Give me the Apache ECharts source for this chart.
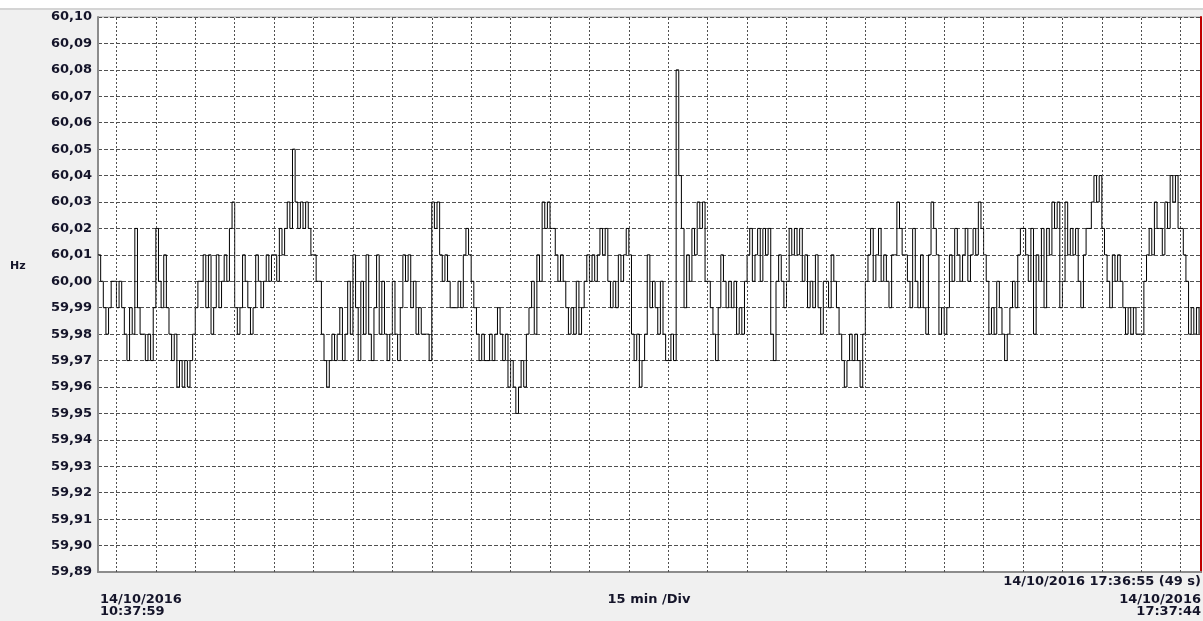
<!DOCTYPE html>
<html>
<head>
<meta charset="utf-8">
<script src="https://cdn.jsdelivr.net/npm/echarts@6/dist/echarts.min.js"></script>
<style>
html,body{margin:0;padding:0;background:#f0f0f0;}
#c{width:1203px;height:621px;}
</style>
</head>
<body>
<div id="c"></div>
<script>
// ---- data (minutes since midnight, 1 sample per minute starting 10:38) ----
const axisStartMin = 10 * 60 + 37 + 59 / 60;   // 14/10/2016 10:37:59
const axisEndMin = 17 * 60 + 37 + 44 / 60;     // 14/10/2016 17:37:44
const firstSampleMin = 10 * 60 + 38;
const sampleStepMin = 1;

// frequency (Hz), one row per 15-minute division
const frequency = [
  60.01,60.00,59.99,59.98,59.99,60.00,60.00,
  59.99,60.00,59.99,59.98,59.97,59.99,59.98,60.02,59.99,59.98,59.98,59.97,59.98,59.97,59.99,
  60.02,60.00,59.99,60.01,59.99,59.98,59.97,59.98,59.96,59.97,59.96,59.97,59.96,59.97,59.98,
  59.99,60.00,60.00,60.01,59.99,60.01,59.98,59.99,60.01,59.99,60.00,60.01,60.00,60.02,60.03,
  59.99,59.98,59.99,60.01,60.00,59.99,59.98,59.99,60.01,60.00,59.99,60.00,60.01,60.00,60.01,
  60.01,60.00,60.02,60.01,60.02,60.03,60.02,60.05,60.03,60.02,60.03,60.02,60.03,60.02,60.01,
  60.01,60.00,60.00,59.98,59.97,59.96,59.97,59.98,59.97,59.98,59.99,59.97,59.98,60.00,59.98,
  60.01,59.99,59.97,60.00,59.98,60.01,59.98,59.97,59.99,60.01,59.98,60.00,59.98,59.97,59.98,
  60.00,59.98,59.97,59.99,60.01,60.00,60.01,59.99,60.00,59.98,59.99,59.98,59.98,59.98,59.97,
  60.03,60.02,60.03,60.01,60.00,60.01,60.00,59.99,59.99,59.99,60.00,59.99,60.01,60.02,60.01,
  60.00,59.99,59.98,59.97,59.98,59.97,59.97,59.98,59.97,59.98,59.99,59.98,59.97,59.98,59.96,
  59.97,59.96,59.95,59.96,59.97,59.96,59.98,59.99,60.00,59.98,60.01,60.00,60.03,60.02,60.03,
  60.02,60.02,60.01,60.00,60.01,60.00,59.99,59.98,59.99,59.98,60.00,59.98,59.99,60.00,60.01,
  60.00,60.01,60.00,60.01,60.02,60.01,60.02,60.00,59.99,60.00,59.99,60.01,60.00,60.01,60.02,
  60.01,59.98,59.97,59.98,59.96,59.97,59.98,60.01,59.99,60.00,59.99,59.98,60.00,59.98,59.97,
  59.97,59.98,59.97,60.08,60.04,60.02,59.99,60.01,60.00,60.02,60.01,60.03,60.02,60.03,60.00,
  60.00,59.99,59.98,59.97,59.99,60.01,60.00,59.99,60.00,59.99,60.00,59.98,59.99,59.98,60.00,
  60.01,60.02,60.00,60.01,60.02,60.00,60.02,60.01,60.02,59.98,59.97,60.00,60.01,60.00,59.99,
  60.00,60.02,60.01,60.02,60.01,60.02,60.00,60.01,59.99,60.00,59.99,60.01,59.99,59.98,60.00,
  60.00,59.99,60.01,60.00,59.99,59.98,59.97,59.96,59.97,59.98,59.97,59.98,59.97,59.96,59.98,
  60.00,60.01,60.02,60.00,60.01,60.02,60.00,60.01,60.00,59.99,60.01,60.01,60.03,60.02,60.01,
  60.01,60.00,59.99,60.02,60.00,59.99,60.01,59.99,59.98,60.01,60.03,60.02,60.01,59.98,59.99,
  59.98,59.99,60.01,60.00,60.02,60.01,60.00,60.01,60.02,60.00,60.01,60.02,60.01,60.03,60.02,
  60.01,60.00,59.98,59.99,59.98,60.00,59.99,59.98,59.97,59.98,59.99,60.00,59.99,60.01,60.02,
  60.02,60.01,60.00,60.02,59.98,60.01,60.00,60.02,59.99,60.02,60.01,60.03,60.02,60.03,59.99,
  60.00,60.03,60.01,60.02,60.01,60.02,60.00,59.99,60.01,60.02,60.02,60.03,60.04,60.03,60.04,
  60.02,60.01,60.00,59.99,60.01,60.00,60.01,60.00,59.99,59.98,59.99,59.98,59.99,59.98,59.98,
  59.98,60.00,60.01,60.02,60.01,60.03,60.02,60.02,60.01,60.03,60.02,60.04,60.03,60.04,60.02,
  60.02,60.01,60.00,59.98,59.99,59.98,59.99,59.98
];

// y axis
const yMin = 59.89, yMax = 60.10, yStep = 0.01;
// vertical division lines every 15 min (10:45 ... 17:30)
const divisionStepMin = 15;
const firstDivisionMin = 10 * 60 + 45;
const lastDivisionMin = 17 * 60 + 30;

// texts
const yUnit = 'Hz';
const startDate = '14/10/2016', startTime = '10:37:59';
const endDate = '14/10/2016', endTime = '17:37:44';
const cursorText = '14/10/2016 17:36:55 (49 s)';
const scaleText = '15 min /Div';

// ---- build ----
const points = frequency.map((v, i) => [firstSampleMin + i * sampleStepMin, v]);
const divisionLines = [];
for (let m = firstDivisionMin; m <= lastDivisionMin; m += divisionStepMin) divisionLines.push({ xAxis: m });

const FONT = 'DejaVu Sans';
const TXT = '#15152a';
const tfont = 'bold 13px "DejaVu Sans"';

const chart = echarts.init(document.getElementById('c'), null, { renderer: 'canvas' });
chart.setOption({
  animation: false,
  backgroundColor: '#f0f0f0',
  grid: { left: 98, top: 17, right: 2, bottom: 49, show: true, backgroundColor: '#ffffff', borderColor: '#a8a8a8', borderWidth: 1 },
  xAxis: [{
    type: 'value', min: axisStartMin, max: axisEndMin,
    axisLine: { show: true, onZero: false, lineStyle: { color: '#8c8c8c', width: 2 } },
    axisTick: { show: false }, axisLabel: { show: false }, splitLine: { show: false }
  }],
  yAxis: [{
    type: 'value', min: yMin, max: yMax, interval: yStep,
    axisLine: { show: true, onZero: false, lineStyle: { color: '#8c8c8c', width: 2 } },
    axisTick: { show: false },
    axisLabel: {
      margin: 6, fontFamily: FONT, fontWeight: 'bold', fontSize: 13, color: TXT,
      formatter: v => v.toFixed(2).replace('.', ',')
    },
    splitLine: { show: true, lineStyle: { color: '#505050', width: 1, type: [4, 2] } }
  }, {
    type: 'value', position: 'right', min: yMin, max: yMax,
    axisLine: { show: true, onZero: false, lineStyle: { color: '#c00000', width: 2 } },
    axisTick: { show: false }, axisLabel: { show: false }, splitLine: { show: false }
  }],
  series: [{
    type: 'line', data: [], silent: true, z: 1,
    markLine: {
      silent: true, symbol: 'none', animation: false,
      label: { show: false },
      lineStyle: { color: '#505050', width: 1, type: [2, 2] },
      data: divisionLines
    }
  }, {
    type: 'line', data: points, step: 'end', showSymbol: false, z: 3,
    lineStyle: { color: '#000000', width: 1 }
  }],
  graphic: [
    { type: 'rect', shape: { x: 0, y: 0, width: 1203, height: 8 }, style: { fill: '#ffffff' }, silent: true },
    { type: 'rect', shape: { x: 0, y: 8, width: 1203, height: 2 }, style: { fill: '#d4d4d4' }, silent: true },
    { type: 'text', x: 10, y: 266, style: { text: yUnit, font: 'bold 11px "DejaVu Sans"', fill: TXT, textVerticalAlign: 'middle' } },
    { type: 'text', x: 100, y: 594, style: { text: startDate + '\n' + startTime, font: tfont, lineHeight: 12, fill: TXT } },
    { type: 'text', x: 649, y: 600, style: { text: scaleText, font: tfont, fill: TXT, textAlign: 'center', textVerticalAlign: 'middle' } },
    { type: 'text', x: 1201, y: 582, style: { text: cursorText, font: tfont, fill: TXT, textAlign: 'right', textVerticalAlign: 'middle' } },
    { type: 'text', x: 1201, y: 594, style: { text: endDate + '\n' + endTime, font: tfont, lineHeight: 12, fill: TXT, textAlign: 'right' } }
  ]
});
</script>
</body>
</html>
